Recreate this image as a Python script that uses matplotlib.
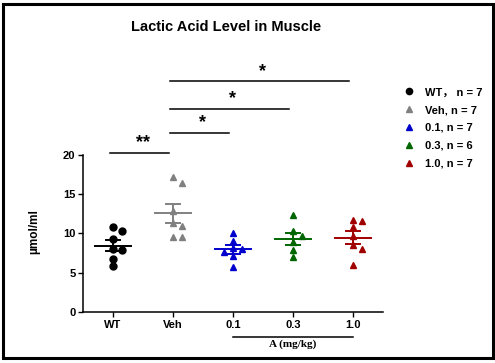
import matplotlib.pyplot as plt
import numpy as np
from matplotlib.lines import Line2D
from matplotlib.patches import Rectangle

plt.rcParams['font.family'] = ['Liberation Sans', 'Noto Sans CJK SC', 'DejaVu Sans']

# data
groups = ['WT', 'Veh', '0.1', '0.3', '1.0']
wt = [10.8, 10.35, 9.25, 8.05, 7.95, 6.7, 5.85]
veh = [17.15, 16.4, 12.9, 11.4, 10.95, 9.5, 9.6]
d01 = [10.0, 9.1, 8.2, 8.05, 7.65, 7.1, 5.7]
d03 = [12.3, 10.35, 9.7, 8.9, 7.9, 6.95]
d10 = [11.7, 11.55, 10.8, 9.7, 8.5, 8.05, 5.95]
legend_labels = ['WT\uff0c n = 7', 'Veh, n = 7', '0.1, n = 7', '0.3, n = 6', '1.0, n = 7']
colors = ['black', '#808080', '#0000cc', '#006600', '#a00000']
markers = ['o', '^', '^', '^', '^']

# significance bars: (from group, to group, height, label)
sig = [(0, 1, 20.25, '**'), (1, 2, 22.8, '*'), (1, 3, 25.9, '*'), (1, 4, 29.4, '*')]

series = [wt, veh, d01, d03, d10]


def swarm(vals, step=0.155, thresh=0.85):
    # simple column swarm: put each point in the first free slot
    order = np.argsort(vals)[::-1]
    placed = []
    offs = np.zeros(len(vals))
    for i in order:
        for k in [0, 1, -1, 2, -2]:
            if all(not (s == k and abs(v - vals[i]) < thresh) for s, v in placed):
                placed.append((k, vals[i]))
                offs[i] = k * step
                break
    return offs


fig = plt.figure(figsize=(4.95, 3.63), dpi=100)
ax = fig.add_axes([0.1677, 0.1405, 0.606, 0.4325])

for i, vals in enumerate(series):
    vals = np.array(vals)
    x = i + swarm(vals)
    ax.plot(x, vals, linestyle='none', marker=markers[i], color=colors[i],
            markersize=5, clip_on=False, zorder=3)
    m = vals.mean()
    se = vals.std(ddof=1) / np.sqrt(len(vals))
    ax.plot([i - 0.3, i + 0.3], [m, m], color=colors[i], lw=1.4, zorder=4)
    ax.plot([i - 0.11, i + 0.11], [m + se, m + se], color=colors[i], lw=1.4, zorder=4)
    ax.plot([i - 0.11, i + 0.11], [m - se, m - se], color=colors[i], lw=1.4, zorder=4)
    ax.plot([i, i], [m - se, m + se], color=colors[i], lw=1.4, zorder=4)

for a, b, h, lab in sig:
    ax.plot([a - 0.05, b - 0.07], [h, h], color='black', lw=1.1, clip_on=False)
    ax.text((a + b) / 2, h + 0.2, lab, ha='center', va='bottom', fontsize=13,
            fontweight='bold')

ax.set_xlim(-0.5, 4.5)
ax.set_ylim(0, 20)
ax.set_xticks(range(5))
ax.set_xticklabels(groups)
ax.set_yticks([0, 5, 10, 15, 20])
for s in ['top', 'right']:
    ax.spines[s].set_visible(False)
for s in ['left', 'bottom']:
    ax.spines[s].set_linewidth(1.1)
ax.tick_params(width=1.0, length=3.5, labelsize=8, pad=2)
for t in ax.get_xticklabels() + ax.get_yticklabels():
    t.set_fontweight('bold')
ax.set_ylabel('\u00b5mol/ml', fontsize=8.5, fontweight='bold')
ax.yaxis.set_label_coords(-0.143, 0.51)

# dose group bracket under the axis
ax.plot([2, 4], [-3.2, -3.2], color='black', lw=1.1, clip_on=False)
ax.text(3, -4.1, 'A (mg/kg)', ha='center', va='center', fontsize=8,
        fontweight='bold', family='Liberation Serif')

fig.text(0.457, 0.925, 'Lactic Acid Level in Muscle', ha='center', va='center',
         fontsize=10.5, fontweight='bold')

handles = [Line2D([], [], linestyle='none', marker=markers[i], color=colors[i],
                  markersize=4.5) for i in range(5)]
leg = fig.legend(handles, legend_labels, loc='upper left',
                 bbox_to_anchor=(0.795, 0.787), frameon=False, fontsize=8,
                 handlelength=1.0, handletextpad=0.9, labelspacing=0.7)
for t in leg.get_texts():
    t.set_fontweight('bold')

fig.add_artist(Rectangle((0.006, 0.013), 0.99, 0.975, transform=fig.transFigure,
                         fill=False, edgecolor='black', lw=2.2))

fig.savefig('out.png', dpi=100)
